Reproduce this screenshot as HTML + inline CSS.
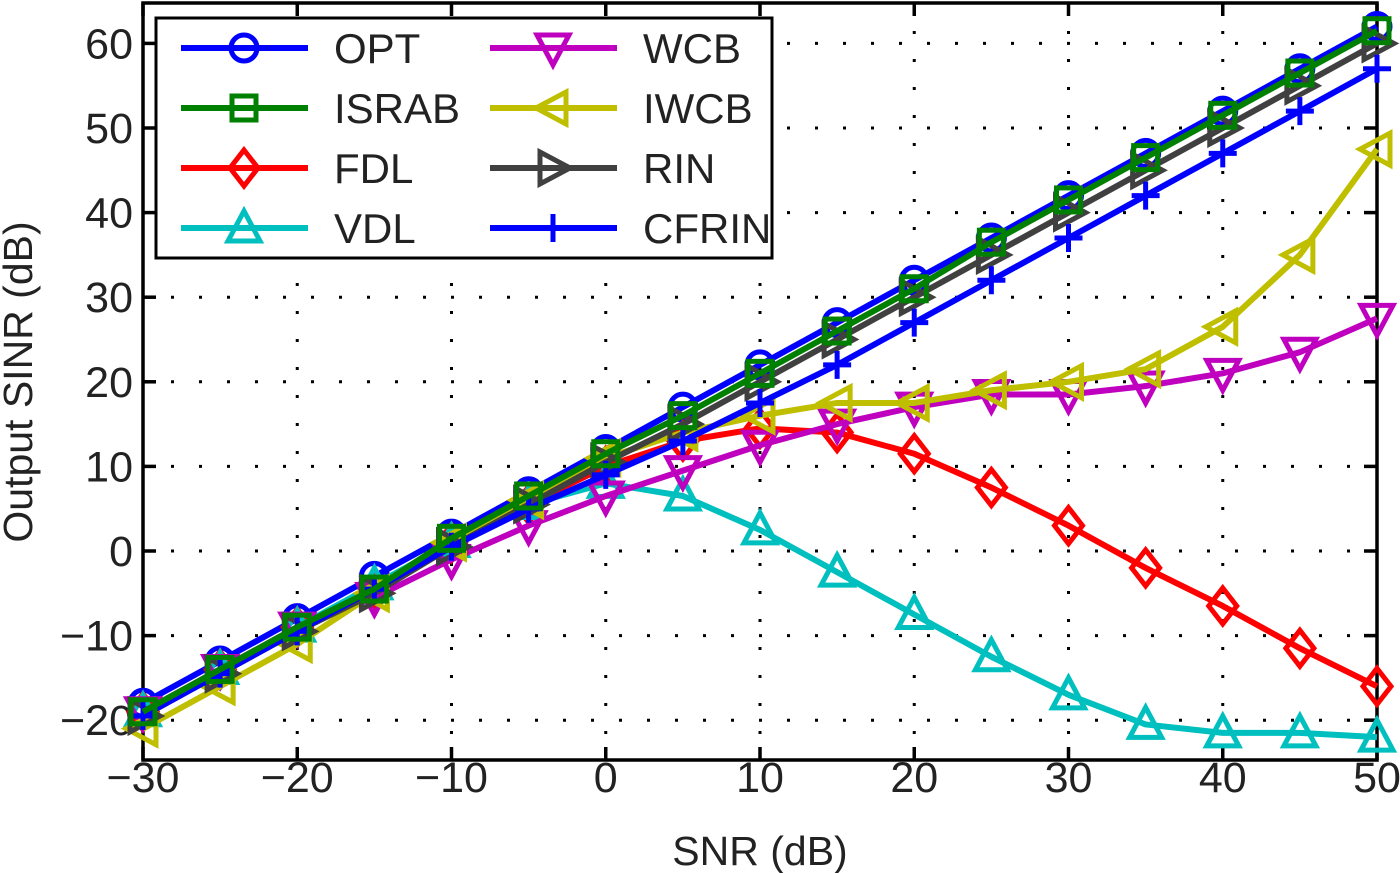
<!DOCTYPE html>
<html><head><meta charset="utf-8"><style>
html,body{margin:0;padding:0;background:#fff;}
svg{display:block;font-family:"Liberation Sans",Arial,sans-serif;}
</style></head><body>
<svg id="chart" width="1400" height="873" viewBox="0 0 1400 873" xmlns="http://www.w3.org/2000/svg"></svg>
<script>
const snr = [-30,-25,-20,-15,-10,-5,0,5,10,15,20,25,30,35,40,45,50];
const xTicks = [-30,-20,-10,0,10,20,30,40,50];
const xTickLabels = ['\u221230','\u221220','\u221210','0','10','20','30','40','50'];
const yTicks = [-20,-10,0,10,20,30,40,50,60];
const yTickLabels = ['\u221220','\u221210','0','10','20','30','40','50','60'];
const optVals = [-18,-13,-8,-3,2,7,12,17,22,27,32,37,42,47,52,57,62];
const israbVals = [-19,-14,-9,-4.5,1.5,6.5,11.5,16,21,26,31,36.5,41.5,46.5,51.5,56.5,61.5];
const fdlVals = [-19,-14,-9,-4.5,1,5.5,10,13,14.5,14,11.5,7.5,3,-2,-6.5,-11.5,-16];
const vdlVals = [-19,-14,-9,-4,1,5.5,8,6.5,2.5,-2.5,-7.5,-12.5,-17,-20.5,-21.5,-21.5,-22];
const wcbVals = [-19,-14,-9,-5.5,-1,3,6.5,9.5,12.5,15,17,18.5,18.5,19.5,21,23.5,27.5];
const iwcbVals = [-21,-16,-11,-5,1,6,11,14,16,17.5,17.5,19,20,21.5,26.5,35,47.5];
const rinVals = [-19.5,-14.5,-9.5,-5,0.5,5.5,10.5,15,20,25,30,35,40,45,50,55,60];
const cfrinVals = [-19.5,-14.5,-9.5,-4.5,0.5,5,9,13,17.5,22,27,32,37,42,47,52,57];

const L=143,R=1377,T=3,B=760;
const X = v => L + (v+30)*(R-L)/80;
const Y = v => 551 - v*8.46;
const NS='http://www.w3.org/2000/svg';
const svg=document.getElementById('chart');
function mk(tag,attrs,parent){const e=document.createElementNS(NS,tag);for(const k in attrs)e.setAttribute(k,attrs[k]);(parent||svg).appendChild(e);return e;}

const grid=mk('g',{});


xTicks.forEach(t=>{mk('line',{x1:X(t),x2:X(t),y1:T,y2:B,stroke:'#000','stroke-width':3,'stroke-dasharray':'3 25'},grid);});
yTicks.forEach(t=>{mk('line',{x1:L,x2:R,y1:Y(t),y2:Y(t),stroke:'#000','stroke-width':3,'stroke-dasharray':'3 25'},grid);});

const axes=mk('g',{});


mk('rect',{x:L,y:T,width:R-L,height:B-T,fill:'none',stroke:'#000','stroke-width':3.5},axes);
xTicks.forEach((t,i)=>{
  mk('line',{x1:X(t),x2:X(t),y1:B,y2:B-13,stroke:'#000','stroke-width':3.5},axes);
  mk('line',{x1:X(t),x2:X(t),y1:T,y2:T+13,stroke:'#000','stroke-width':3.5},axes);
  const tx=mk('text',{x:X(t),y:792,'font-size':43,'text-anchor':'middle',fill:'#222'},axes);
  
  
  tx.textContent=xTickLabels[i];
});
yTicks.forEach((t,i)=>{
  mk('line',{x1:L,x2:L+13,y1:Y(t),y2:Y(t),stroke:'#000','stroke-width':3.5},axes);
  mk('line',{x1:R,x2:R-13,y1:Y(t),y2:Y(t),stroke:'#000','stroke-width':3.5},axes);
  const tx=mk('text',{x:L-10,y:Y(t)+15,'font-size':43,'text-anchor':'end',fill:'#222'},axes);
  
  
  tx.textContent=yTickLabels[i];
});
const xl=mk('text',{x:760,y:865,'font-size':41,'text-anchor':'middle',fill:'#222'});


xl.textContent='SNR (dB)';
const yl=mk('text',{x:0,y:0,'font-size':41,'text-anchor':'middle',fill:'#222',transform:'translate(32,382) rotate(-90)'});


yl.textContent='Output SINR (dB)';

function marker(type,cx,cy,color,parent){
  const s=14, a={fill:'none',stroke:color,'stroke-width':5};
  let e;
  if(type==='o') e=mk('circle',Object.assign({cx,cy,r:s-1},a),parent);
  else if(type==='s') e=mk('rect',Object.assign({x:cx-s+2,y:cy-s+2,width:2*s-4,height:2*s-4},a),parent);
  else if(type==='d') e=mk('polygon',Object.assign({points:`${cx},${cy-s-4} ${cx+s},${cy} ${cx},${cy+s+4} ${cx-s},${cy}`},a),parent);
  else if(type==='^') e=mk('polygon',Object.assign({points:`${cx},${cy-s-3} ${cx+s+2},${cy+s-1} ${cx-s-2},${cy+s-1}`},a),parent);
  else if(type==='v') e=mk('polygon',Object.assign({points:`${cx},${cy+s+3} ${cx+s+2},${cy-s+1} ${cx-s-2},${cy-s+1}`},a),parent);
  else if(type==='<') e=mk('polygon',Object.assign({points:`${cx-s-3},${cy} ${cx+s-1},${cy-s-2} ${cx+s-1},${cy+s+2}`},a),parent);
  else if(type==='>') e=mk('polygon',Object.assign({points:`${cx+s+3},${cy} ${cx-s+1},${cy-s-2} ${cx-s+1},${cy+s+2}`},a),parent);
  else if(type==='+') e=mk('path',Object.assign({d:`M${cx-s},${cy}H${cx+s}M${cx},${cy-s}V${cy+s}`},a),parent);
  return e;
}

const series=[
  {name:'OPT',vals:optVals,color:'#0000ff',m:'o'},
  {name:'FDL',vals:fdlVals,color:'#ff0000',m:'d'},
  {name:'VDL',vals:vdlVals,color:'#00bfbf',m:'^'},
  {name:'WCB',vals:wcbVals,color:'#bf00bf',m:'v'},
  {name:'IWCB',vals:iwcbVals,color:'#bfbf00',m:'<'},
  {name:'RIN',vals:rinVals,color:'#404040',m:'>'},
  {name:'CFRIN',vals:cfrinVals,color:'#0000ff',m:'+'},
  {name:'ISRAB',vals:israbVals,color:'#008000',m:'s'}
];
series.forEach(s=>{
  const g=mk('g',{});
  
  
  const pts=s.vals.map((v,i)=>X(snr[i])+','+Y(v)).join(' ');
  mk('polyline',{points:pts,fill:'none',stroke:s.color,'stroke-width':6,'stroke-linejoin':'round'},g);
  s.vals.forEach((v,i)=>{const m=marker(s.m,X(snr[i]),Y(v),s.color,g);
    
    });
});

const lg=mk('g',{});


mk('rect',{x:156,y:18,width:616,height:240,fill:'#fff',stroke:'#000','stroke-width':3},lg);
const legendOrder=[['OPT','#0000ff','o'],['ISRAB','#008000','s'],['FDL','#ff0000','d'],['VDL','#00bfbf','^'],
  ['WCB','#bf00bf','v'],['IWCB','#bfbf00','<'],['RIN','#404040','>'],['CFRIN','#0000ff','+']];
legendOrder.forEach((e,i)=>{
  const col=Math.floor(i/4), row=i%4;
  const x0=col?490:181, y0=48+row*60;
  const g=mk('g',{},lg);
  
  
  mk('line',{x1:x0,x2:x0+127,y1:y0,y2:y0,stroke:e[1],'stroke-width':6},g);
  marker(e[2],x0+63,y0,e[1],g);
  const t=mk('text',{x:x0+153,y:y0+15,'font-size':42,fill:'#222'},g);
  t.textContent=e[0];
});
</script>
</body></html>
